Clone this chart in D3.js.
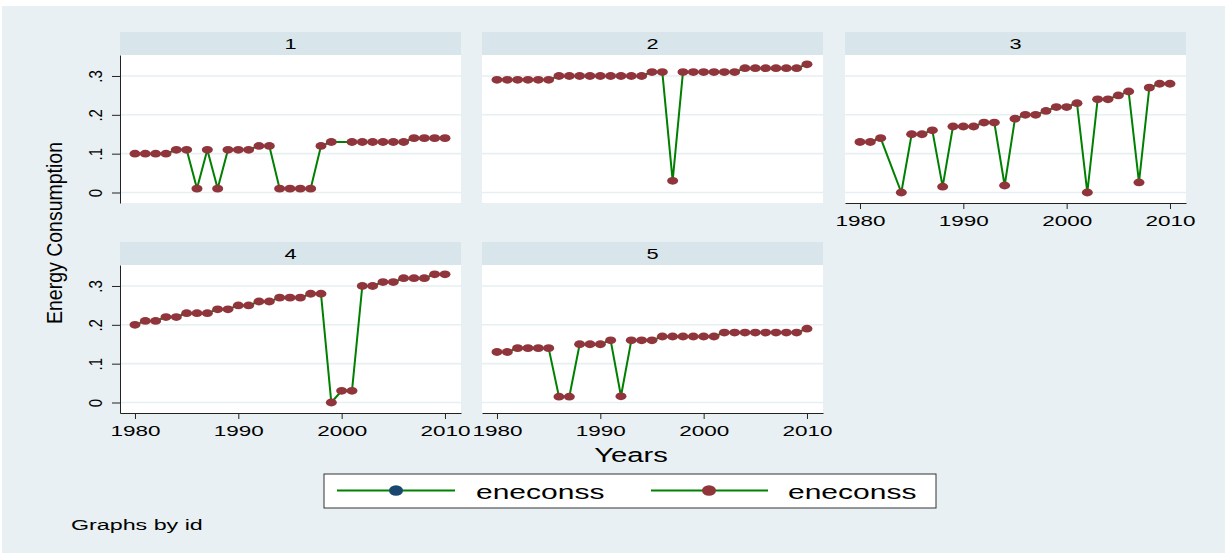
<!DOCTYPE html>
<html>
<head>
<meta charset="utf-8">
<script src="https://cdn.jsdelivr.net/npm/d3@7"></script>
<style>
  body { margin: 0; background: #fff; }
  text { font-family: "Liberation Sans", Arial, sans-serif; fill: #000; }
</style>
</head>
<body>
<div id="chart"></div>
<script>
// data (null = year missing, line is joined across it)
var years = d3.range(1980, 2011);
var ids = ["1", "2", "3", "4", "5"];
var id1 = [.10,.10,.10,.10,.11,.11,.01,.11,.01,.11,.11,.11,.12,.12,.01,.01,.01,.01,.12,.13,null,.13,.13,.13,.13,.13,.13,.14,.14,.14,.14];
var id2 = [.29,.29,.29,.29,.29,.29,.30,.30,.30,.30,.30,.30,.30,.30,.30,.31,.31,.03,.31,.31,.31,.31,.31,.31,.32,.32,.32,.32,.32,.32,.33];
var id3 = [.13,.13,.14,null,.00,.15,.15,.16,.015,.17,.17,.17,.18,.18,.018,.19,.20,.20,.21,.22,.22,.23,.00,.24,.24,.25,.26,.026,.27,.28,.28];
var id4 = [.20,.21,.21,.22,.22,.23,.23,.23,.24,.24,.25,.25,.26,.26,.27,.27,.27,.28,.28,.00,.03,.03,.30,.30,.31,.31,.32,.32,.32,.33,.33];
var id5 = [.13,.13,.14,.14,.14,.14,.015,.015,.15,.15,.15,.16,.016,.16,.16,.16,.17,.17,.17,.17,.17,.17,.18,.18,.18,.18,.18,.18,.18,.18,.19];
var series = [id1, id2, id3, id4, id5];
var xTicks = [1980, 1990, 2000, 2010];
var yTicks = [0, .1, .2, .3];
var legendLabels = ["eneconss", "eneconss"];

var W = 1225, H = 554;
var SX = 1.5; // stata output is stretched sideways
var bg = "#e8f0f3", strip = "#d8e5ea", green = "#008000", maroon = "#90353b", navy = "#1a476f";

var svg = d3.select("#chart").append("svg").attr("width", W).attr("height", H);
svg.append("rect").attr("x", 2).attr("y", 6).attr("width", W - 2).attr("height", 547).attr("fill", bg);

var colX = [120, 482, 845], rowY = [32, 242];
var pw = 341, hh = 23, ph = 148;

var x = d3.scaleLinear().domain([1978.55, 2011.55]).range([0, pw]);
var y = d3.scaleLinear().domain([-0.027, 0.354]).range([ph, 0]);

function stretchText(g, tx, ty, str, size, anchor) {
  return g.append("text")
    .attr("transform", "translate(" + tx + "," + ty + ") scale(" + SX + ",1)")
    .attr("text-anchor", anchor || "middle")
    .attr("font-size", size)
    .text(str);
}

series.forEach(function(vals, i) {
  var col = i % 3, row = Math.floor(i / 3);
  var g = svg.append("g").attr("transform", "translate(" + colX[col] + "," + rowY[row] + ")");

  // header strip
  g.append("rect").attr("width", pw).attr("height", hh).attr("fill", strip);
  stretchText(g, pw / 2, 16.5, ids[i], 14.5);

  var p = g.append("g").attr("transform", "translate(0," + hh + ")");
  p.append("rect").attr("width", pw).attr("height", ph).attr("fill", "#fff");

  p.selectAll(".grid").data(yTicks).enter().append("line")
    .attr("x1", 0).attr("x2", pw)
    .attr("y1", function(d) { return y(d); }).attr("y2", function(d) { return y(d); })
    .attr("stroke", "#e6eff2").attr("stroke-width", 1.6);

  var pts = years.map(function(yr, k) { return { yr: yr, v: vals[k] }; })
    .filter(function(d) { return d.v != null; });

  var line = d3.line().x(function(d) { return x(d.yr); }).y(function(d) { return y(d.v); });
  p.append("path").datum(pts).attr("d", line)
    .attr("fill", "none").attr("stroke", green).attr("stroke-width", 2);

  p.selectAll(".pt").data(pts).enter().append("ellipse")
    .attr("cx", function(d) { return x(d.yr); })
    .attr("cy", function(d) { return y(d.v); })
    .attr("rx", 5.5).attr("ry", 3.9)
    .attr("fill", maroon);

  // y axis only on the left column
  if (col === 0) {
    var ya = p.append("g").call(d3.axisLeft(y).tickValues(yTicks).tickSize(8).tickSizeOuter(0)
      .tickFormat(function(d) { return d === 0 ? "0" : d3.format(".1f")(d).replace(/^0/, ""); }));
    ya.select(".domain").attr("stroke", "#222");
    ya.selectAll(".tick line").attr("stroke", "#222");
    ya.selectAll("text").attr("x", null).attr("dy", null)
      .attr("text-anchor", "middle").attr("font-size", 15).attr("fill", "#000")
      .attr("transform", "translate(-18,0) scale(1.2,1) rotate(-90)");
  }
  // x axis on the bottom panel of each column
  if (row === 1 || col === 2) {
    var xa = p.append("g").attr("transform", "translate(0," + ph + ")")
      .call(d3.axisBottom(x).tickValues(xTicks).tickSize(6).tickSizeOuter(0).tickFormat(d3.format("d")));
    xa.select(".domain").attr("stroke", "#222");
    xa.selectAll(".tick line").attr("stroke", "#222");
    xa.selectAll("text").attr("y", 23.5).attr("dy", null)
      .attr("font-size", 15).attr("fill", "#000")
      .attr("transform", "scale(" + SX + ",1)")
      .attr("x", 0);
  }
});

// axis titles
svg.append("text")
  .attr("transform", "translate(62,233) scale(1.15,1) rotate(-90)")
  .attr("text-anchor", "middle").attr("font-size", 18.5)
  .attr("textLength", 182).attr("lengthAdjust", "spacingAndGlyphs")
  .text("Energy Consumption");
stretchText(svg, 631, 462, "Years", 19.5);

// legend
var lg = svg.append("g");
lg.append("rect").attr("x", 324).attr("y", 474).attr("width", 612).attr("height", 34)
  .attr("fill", "#fff").attr("stroke", "#333").attr("stroke-width", 1);
var keys = [{ x0: 337, x1: 455, m: 396, tx: 476, c: navy }, { x0: 651, x1: 768, m: 709, tx: 788, c: maroon }];
keys.forEach(function(k, i) {
  lg.append("line").attr("x1", k.x0).attr("x2", k.x1).attr("y1", 490.5).attr("y2", 490.5)
    .attr("stroke", green).attr("stroke-width", 2.2);
  lg.append("ellipse").attr("cx", k.m).attr("cy", 490.5).attr("rx", 7).attr("ry", 5.3).attr("fill", k.c);
  stretchText(lg, k.tx, 498.5, legendLabels[i], 20, "start");
});

stretchText(svg, 71, 530, "Graphs by id", 15.5, "start");
</script>
</body>
</html>
